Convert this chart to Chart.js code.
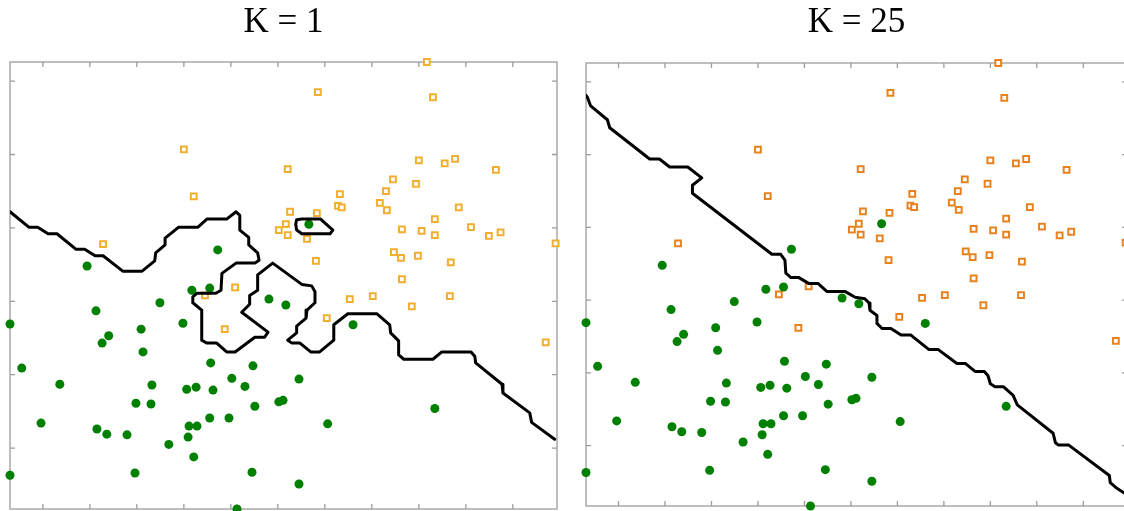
<!DOCTYPE html>
<html>
<head>
<meta charset="utf-8">
<script src="https://cdn.jsdelivr.net/npm/chart.js@4.4.1/dist/chart.umd.min.js"></script>
<style>
    html, body { margin: 0; padding: 0; background: #fff; overflow: hidden; }
    .panel { position: absolute; top: 0; }
</style>
</head>
<body>
<div class="panel" style="left:0px"><canvas id="k1Chart" width="570" height="511"></canvas></div>
<div class="panel" style="left:570px"><canvas id="k25Chart" width="570" height="511"></canvas></div>
<script>
const xTicks = [0, 1, 2, 3, 4, 5, 6, 7, 8, 9, 10];
const yTicks = [0, 1, 2, 3, 4, 5];

const greenX = [-0.70, -0.45, -0.04, 0.36, 1.13, 1.40, 1.26, 1.15, 1.36, 1.79, 1.96, -0.70, 2.09, 2.13, 1.98, 2.30, 2.32, 2.49, 2.68, 2.98,
    3.06, 3.26, 3.21, 3.09, 3.11, 3.28, 3.55, 3.62, 3.57, 3.17, 3.55, 4.02, 4.30, 4.47, 4.51, 3.96, 4.45, 4.13, 4.81, 5.17,
    5.45, 5.45, 5.02, 5.11, 6.60, 6.06, 8.34, 0.94, 3.72, 5.66];
const greenY = [1.69, 1.09, 0.34, 0.87, 1.87, 1.53, 1.43, 0.26, 0.19, 0.18, -0.34, -0.37, 1.62, 1.31, 0.61, 0.60, 0.86, 1.98, 0.05, 1.70,
    0.80, 0.83, -0.12, 0.15, 0.30, 0.30, 0.41, 0.79, 1.16, 2.15, 2.18, 0.95, 0.84, 1.12, 0.57, 0.41, -0.33, -0.83, 2.03, 1.95,
    0.94, -0.49, 0.63, 0.65, 1.68, 0.33, 0.54, 2.48, 2.70, 3.05];

const orangeX = [3.00, 3.21, 1.28, 5.21, 5.26, 5.17, 5.02, 5.21, 4.09, 8.17, 5.85, 8.30, 8.00, 8.55, 8.77, 9.64, 7.45, 7.94, 7.30, 6.32,
    6.28, 6.36, 7.17, 7.32, 8.85, 5.83, 8.34, 7.64, 8.06, 8.34, 9.11, 9.49, 9.74, 5.62, 10.91, 7.47, 7.62, 7.98, 8.68, 5.81,
    7.64, 6.53, 7.02, 7.85, 8.66, 6.04, 10.70, 3.45, 3.87];
const orangeY = [4.07, 3.43, 2.78, 3.80, 3.22, 3.05, 2.97, 2.90, 2.19, 5.26, 4.85, 4.78, 3.92, 3.88, 3.94, 3.79, 3.66, 3.60, 3.50, 3.46,
    3.30, 3.28, 3.34, 3.24, 3.28, 3.20, 3.12, 2.98, 2.96, 2.90, 3.01, 2.89, 2.94, 2.85, 2.79, 2.67, 2.59, 2.62, 2.53, 2.55,
    2.30, 2.03, 2.07, 1.93, 2.07, 1.77, 1.44, 2.08, 1.62];

// K = 1 decision boundary (main curve + small island)
const k1LineX = [-0.70, -0.30, -0.11, 0.11, 0.30, 0.70, 0.89, 1.11, 1.28, 1.70, 2.11, 2.38, 2.40, 2.60, 2.60, 2.89, 3.30, 3.49, 3.91, 4.11,
    4.19, 4.19, 4.38, 4.38, 4.57, 4.60, 4.51, 4.11, 3.81, 3.79, 3.68, 3.28, 3.19, 3.19, 3.38, 3.38, 3.49, 3.70, 3.91, 4.09,
    4.51, 4.72, 4.79, 4.23, 4.40, 4.40, 4.57, 4.57, 4.89, 5.51, 5.72, 5.79, 5.79, 5.62, 5.60, 5.40, 5.40, 5.21, 5.30, 5.47,
    5.70, 5.89, 6.19, 6.19, 6.49, 7.11, 7.38, 7.40, 7.57, 7.57, 7.68, 8.30, 8.49, 9.11, 9.19, 9.21, 9.77, 9.79, 10.36, 10.40, 10.89];
const k1LineY = [3.22, 3.01, 3.01, 2.92, 2.92, 2.71, 2.71, 2.62, 2.62, 2.41, 2.41, 2.55, 2.66, 2.77, 2.86, 3.01, 3.01, 3.12, 3.12, 3.22,
    3.17, 2.97, 2.87, 2.77, 2.66, 2.56, 2.52, 2.52, 2.38, 2.15, 2.11, 2.11, 2.06, 1.98, 1.88, 1.47, 1.43, 1.43, 1.31, 1.31,
    1.51, 1.51, 1.58, 1.85, 1.96, 2.08, 2.15, 2.36, 2.52, 2.23, 2.21, 2.13, 1.98, 1.88, 1.77, 1.66, 1.57, 1.47, 1.43, 1.43,
    1.31, 1.31, 1.47, 1.68, 1.83, 1.83, 1.68, 1.57, 1.46, 1.27, 1.21, 1.21, 1.31, 1.31, 1.25, 1.16, 0.87, 0.75, 0.48, 0.35, 0.12];
const k1IslandX = [5.40, 5.51, 5.91, 6.17, 6.11, 5.51, 5.40, 5.38, 5.40];
const k1IslandY = [3.11, 3.12, 3.12, 2.97, 2.92, 2.92, 2.97, 3.05, 3.11];

// K = 25 decision boundary
const k25LineX = [-0.71, -0.67, -0.60, -0.24, -0.19, 0.67, 0.88, 1.10, 1.49, 1.79, 1.59, 1.59, 3.30, 3.49, 3.58, 3.60, 3.71, 3.88, 4.09, 4.29,
    4.48, 4.87, 5.09, 5.30, 5.39, 5.41, 5.56, 5.56, 5.67, 5.86, 6.08, 6.29, 6.68, 6.88, 7.28, 7.46, 7.67, 7.87, 7.95, 8.00,
    8.10, 8.28, 8.49, 8.58, 9.35, 9.40, 9.46, 9.68, 10.56, 10.58, 10.73, 10.93];
const k25LineY = [4.82, 4.79, 4.67, 4.48, 4.37, 3.94, 3.94, 3.83, 3.83, 3.68, 3.58, 3.47, 2.63, 2.63, 2.55, 2.37, 2.31, 2.31, 2.23, 2.23,
    2.12, 2.12, 2.04, 2.02, 1.96, 1.86, 1.79, 1.68, 1.61, 1.61, 1.52, 1.52, 1.32, 1.32, 1.13, 1.13, 1.02, 1.02, 0.96, 0.85,
    0.81, 0.81, 0.69, 0.56, 0.17, 0.04, 0.01, 0.01, -0.41, -0.51, -0.59, -0.67];

const toPoints = (xs, ys) => xs.map((x, i) => ({ x: x, y: ys[i] }));

// box + inward tick marks on all four sides
const framePlugin = {
    id: 'frame',
    beforeDatasetsDraw(chart) {
        const ctx = chart.ctx;
        const a = chart.chartArea;
        const xs = chart.scales.x;
        const ys = chart.scales.y;
        const len = 5;
        ctx.save();
        ctx.strokeStyle = '#9c9c9c';
        ctx.lineWidth = 1.3;
        ctx.strokeRect(a.left, a.top, a.right - a.left, a.bottom - a.top);
        ctx.beginPath();
        xTicks.forEach(t => {
            const px = xs.getPixelForValue(t);
            ctx.moveTo(px, a.top); ctx.lineTo(px, a.top + len);
            ctx.moveTo(px, a.bottom); ctx.lineTo(px, a.bottom - len);
        });
        yTicks.forEach(t => {
            const py = ys.getPixelForValue(t);
            ctx.moveTo(a.left, py); ctx.lineTo(a.left + len, py);
            ctx.moveTo(a.right, py); ctx.lineTo(a.right - len, py);
        });
        ctx.stroke();
        ctx.restore();
    }
};

function lineSet(xs, ys) {
    return {
        data: toPoints(xs, ys),
        showLine: true,
        borderColor: '#000',
        borderWidth: 3,
        borderJoinStyle: 'round',
        borderCapStyle: 'round',
        tension: 0,
        pointRadius: 0,
        fill: false
    };
}

function makePanel(canvasId, title, squareColor, lines, padding, titlePadding) {
    const ctx = document.getElementById(canvasId).getContext('2d');
    const datasets = lines.map(l => lineSet(l[0], l[1]));
    datasets.push({
        data: toPoints(greenX, greenY),
        pointStyle: 'circle',
        pointRadius: 4.5,
        backgroundColor: '#008000',
        borderWidth: 0,
        clip: false
    });
    datasets.push({
        data: toPoints(orangeX, orangeY),
        pointStyle: 'rect',
        pointRadius: 4.1,
        backgroundColor: '#ffffff',
        borderColor: squareColor,
        borderWidth: 2,
        clip: false
    });

    return new Chart(ctx, {
        type: 'scatter',
        data: { datasets: datasets },
        options: {
            responsive: false,
            animation: false,
            events: [],
            layout: { padding: padding, autoPadding: false },
            scales: {
                x: { type: 'linear', min: -0.70, max: 10.94, display: false },
                y: { type: 'linear', min: -0.83, max: 5.26, display: false }
            },
            plugins: {
                legend: { display: false },
                tooltip: { enabled: false },
                title: {
                    display: true,
                    text: title,
                    color: '#000',
                    font: { family: '"Liberation Serif", "Times New Roman", serif', size: 35, weight: 'normal' },
                    padding: titlePadding
                }
            }
        },
        plugins: [framePlugin]
    });
}

makePanel('k1Chart', 'K = 1', '#f2ae2e',
    [[k1LineX, k1LineY], [k1IslandX, k1IslandY]],
    { left: 10, right: 13, top: 0, bottom: 2 },
    { top: 1.5, bottom: 18.5 });

makePanel('k25Chart', 'K = 25', '#e8821e',
    [[k25LineX, k25LineY]],
    { left: 16, right: 13, top: 0, bottom: 5 },
    { top: 1.5, bottom: 19.5 });
</script>
</body>
</html>
